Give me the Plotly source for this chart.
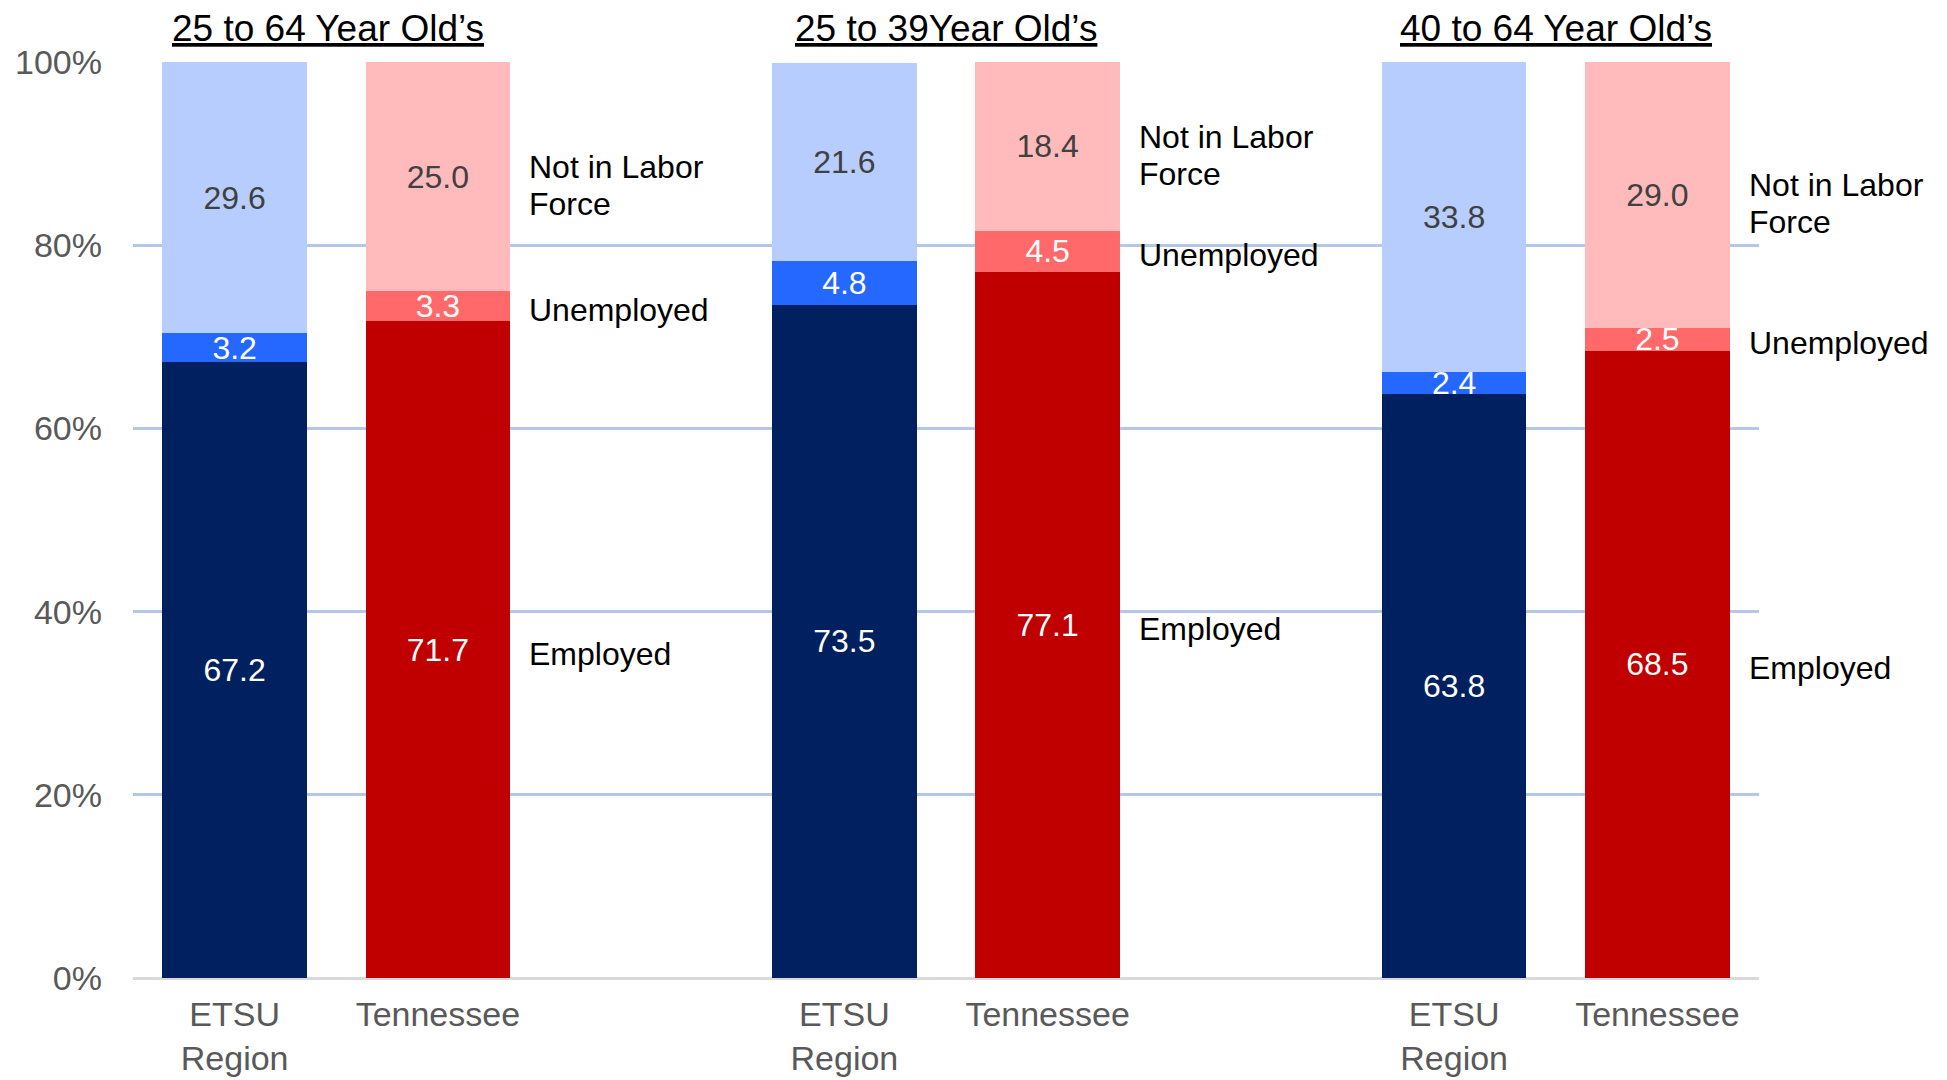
import plotly.graph_objects as go

group_titles = ["25 to 64 Year Old’s", "25 to 39Year Old’s", "40 to 64 Year Old’s"]
areas = ["ETSU<br>Region", "Tennessee"]
employed = [67.2, 71.7, 73.5, 77.1, 63.8, 68.5]
unemployed = [3.2, 3.3, 4.8, 4.5, 2.4, 2.5]
not_in_lf = [29.6, 25.0, 21.6, 18.4, 33.8, 29.0]
series_names = ["Employed", "Unemployed", "Not in Labor<br>Force"]

FONT = "Liberation Sans, Arial, sans-serif"

# x positions: two bars per group, one empty slot between groups
xpos = []
ticktext = []
for g in range(len(group_titles)):
    for a in range(len(areas)):
        xpos.append(g * 3 + a)
        ticktext.append(areas[a])

etsu_cols = ["#002060", "#2468FF", "#B7CDFD"]
tn_cols = ["#C00000", "#FF6969", "#FFBBBB"]
text_cols = ["white", "white", "#404040"]

fig = go.Figure()
for i, vals in enumerate([employed, unemployed, not_in_lf]):
    colors = [etsu_cols[i] if k % 2 == 0 else tn_cols[i] for k in range(len(vals))]
    fig.add_trace(go.Bar(
        x=xpos, y=vals, width=0.71,
        marker=dict(color=colors, line=dict(width=0)),
        text=[f"{v:.1f}" for v in vals],
        textposition="inside", insidetextanchor="middle", textangle=0,
        textfont=dict(family=FONT, size=32, color=text_cols[i]),
        cliponaxis=False, showlegend=False, name=series_names[i].replace("<br>", " "),
    ))

annotations = []
# group titles
title_xshift = [-8, 0, 0]
for g, t in enumerate(group_titles):
    annotations.append(dict(
        x=g * 3 + 0.5, xref="x", xshift=title_xshift[g], y=1.0, yref="paper", yshift=34,
        text=f"<u>{t}</u>", showarrow=False, xanchor="center", yanchor="middle",
        font=dict(family=FONT, size=37, color="black"),
    ))

# series labels to the right of each Tennessee bar, at the segment centers
line_gap = 37
for g in range(len(group_titles)):
    k = g * 3 + 1
    idx = g * 2 + 1
    segs = [employed[idx], unemployed[idx], not_in_lf[idx]]
    base = 0
    for s, v in enumerate(segs):
        lines = series_names[s].split("<br>")
        extra = -9 if len(lines) > 1 else -4
        n = len(lines)
        for j, ln in enumerate(lines):
            annotations.append(dict(
                x=k + 0.44, xref="x", y=base + v / 2, yref="y",
                yshift=extra + ((n - 1) / 2 - j) * line_gap,
                text=ln, showarrow=False, xanchor="left", yanchor="middle",
                align="left", font=dict(family=FONT, size=32, color="black"),
            ))
        base += v

fig.update_layout(
    width=1947, height=1080,
    margin=dict(l=125, r=196, t=54, b=110),
    barmode="stack",
    plot_bgcolor="white", paper_bgcolor="white",
    annotations=annotations,
    uniformtext=dict(minsize=32, mode="show"),
    xaxis=dict(
        range=[-0.5, 7.5], tickvals=xpos, ticktext=ticktext,
        showgrid=False, zeroline=False, showline=False, ticks="",
        tickfont=dict(family=FONT, size=34, color="#595959"),
        ticklabelstandoff=13, automargin=False,
    ),
    yaxis=dict(
        range=[0, 100], tickvals=[0, 20, 40, 60, 80, 100],
        ticktext=["0%", "20%", "40%", "60%", "80%", "100%"],
        showgrid=True, gridcolor="#B4C7E7", gridwidth=3,
        zeroline=True, zerolinecolor="#D9D9D9", zerolinewidth=3,
        showline=False, ticks="",
        tickfont=dict(family=FONT, size=34, color="#595959"),
        ticklabelstandoff=30, automargin=False,
    ),
)

fig.write_html("out.html")
